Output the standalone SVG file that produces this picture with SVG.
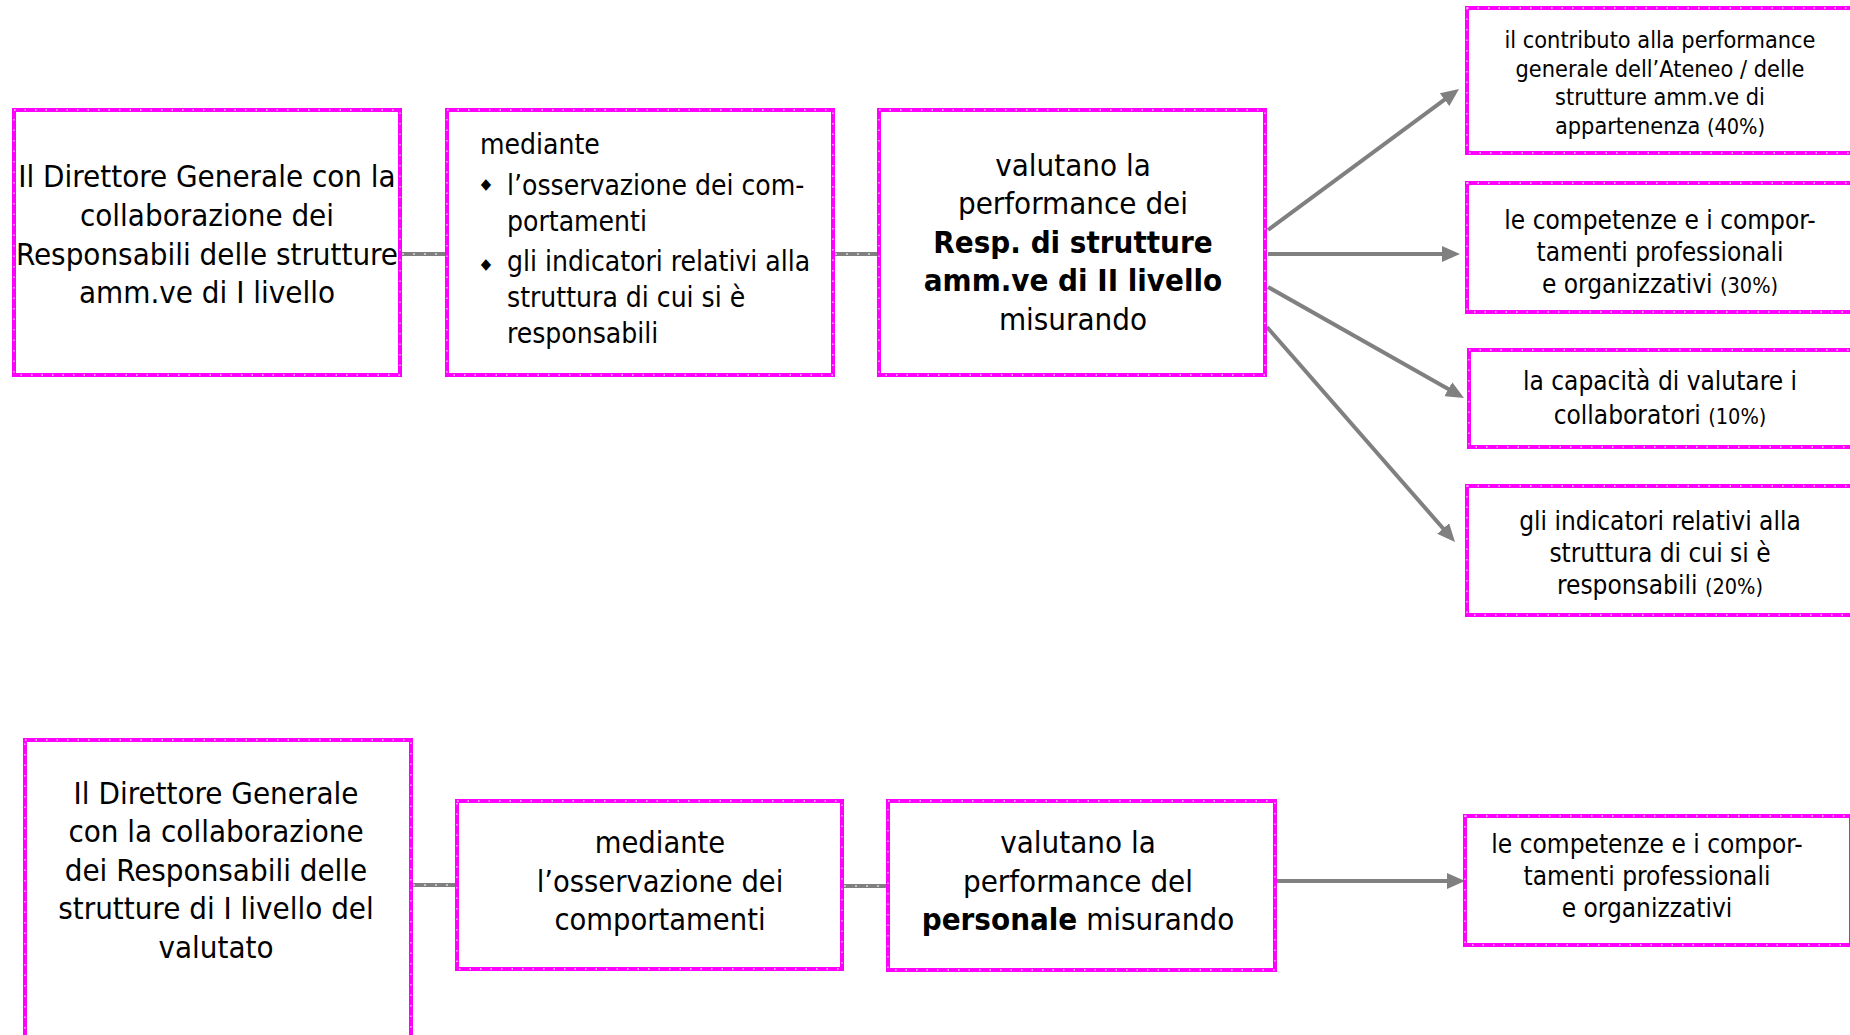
<svg xmlns="http://www.w3.org/2000/svg" width="1850" height="1035" viewBox="0 0 1850 1035">
<defs>
<style>
.box{fill:#fff;stroke:#ff00ff;stroke-width:4}
.boxdot{fill:none;stroke:#ffd0ff;stroke-width:1.3;stroke-dasharray:1.5 9}
.conn{stroke:#808080;stroke-width:4;fill:none}
.conndot{stroke:#d8d8d8;stroke-width:1.6;stroke-dasharray:2 9;fill:none}
.arr{stroke:#808080;stroke-width:4;fill:none;marker-end:url(#ah)}
text{font-family:"DejaVu Sans Condensed","DejaVu Sans","Liberation Sans",sans-serif;fill:#000}
.c{text-anchor:middle}
.t31{font-size:31px}
.t30{font-size:30.5px}
.t28{font-size:28px}
.t26{font-size:26px}
.t23{font-size:23.3px}
.pc{font-size:21.5px}
.b{font-weight:bold}
</style>
<marker id="ah" viewBox="0 0 18 16" refX="8" refY="8" markerWidth="18" markerHeight="16" markerUnits="userSpaceOnUse" orient="auto">
<path d="M0,0 L18,8 L0,16 z" fill="#808080"/>
</marker>
</defs>

<g id="connectors">
<line class="conn" x1="400" y1="254" x2="447" y2="254"/>
<line class="conndot" x1="402" y1="254" x2="445" y2="254"/>
<line class="conn" x1="833" y1="254" x2="879" y2="254"/>
<line class="conndot" x1="835" y1="254" x2="877" y2="254"/>
<line class="conn" x1="411" y1="885" x2="457" y2="885"/>
<line class="conndot" x1="413" y1="885" x2="455" y2="885"/>
<line class="conn" x1="842" y1="886" x2="888" y2="886"/>
<line class="conndot" x1="844" y1="886" x2="886" y2="886"/>
<line class="arr" x1="1268" y1="230" x2="1451" y2="94.9"/>
<line class="arr" x1="1268" y1="254" x2="1450" y2="254"/>
<line class="arr" x1="1268" y1="287" x2="1455.3" y2="393.1"/>
<line class="arr" x1="1267" y1="327" x2="1448.4" y2="534.5"/>
<line class="arr" x1="1275" y1="881" x2="1455" y2="881"/>
</g>

<g id="n1">
<rect class="box" x="14" y="110" width="386" height="265"/>
<rect class="boxdot" x="14" y="110" width="386" height="265"/>
<text class="c t31" x="207"><tspan x="207" y="187">Il Direttore Generale con la</tspan><tspan x="207" y="226">collaborazione dei</tspan><tspan x="207" y="265">Responsabili delle strutture</tspan><tspan x="207" y="303">amm.ve di I livello</tspan></text>
</g>

<g id="n2">
<rect class="box" x="447" y="110" width="386" height="265"/>
<rect class="boxdot" x="447" y="110" width="386" height="265"/>
<text class="t28" x="480" y="154">mediante</text>
<text x="486" y="189" font-size="15" text-anchor="middle">◆</text>
<text class="t28" x="507"><tspan x="507" y="195">l’osservazione dei com-</tspan><tspan x="507" y="231">portamenti</tspan></text>
<text x="486" y="269" font-size="15" text-anchor="middle">◆</text>
<text class="t28" x="507"><tspan x="507" y="271">gli indicatori relativi alla</tspan><tspan x="507" y="307">struttura di cui si è</tspan><tspan x="507" y="343">responsabili</tspan></text>
</g>

<g id="n3">
<rect class="box" x="879" y="110" width="386" height="265"/>
<rect class="boxdot" x="879" y="110" width="386" height="265"/>
<text class="c t31" x="1073"><tspan x="1073" y="176">valutano la</tspan><tspan x="1073" y="214">performance dei</tspan><tspan x="1073" y="253" class="b">Resp. di strutture</tspan><tspan x="1073" y="291" class="b">amm.ve di II livello</tspan><tspan x="1073" y="330">misurando</tspan></text>
</g>

<g id="r1">
<rect class="box" x="1467" y="8" width="386" height="145"/>
<rect class="boxdot" x="1467" y="8" width="386" height="145"/>
<text class="c t23" x="1660"><tspan x="1660" y="48">il contributo alla performance</tspan><tspan x="1660" y="77">generale dell’Ateneo / delle</tspan><tspan x="1660" y="105">strutture amm.ve di</tspan><tspan x="1660" y="134">appartenenza <tspan class="pc">(40%)</tspan></tspan></text>
</g>

<g id="r2">
<rect class="box" x="1467" y="183" width="386" height="129"/>
<rect class="boxdot" x="1467" y="183" width="386" height="129"/>
<text class="c t26" x="1660"><tspan x="1660" y="229">le competenze e i compor-</tspan><tspan x="1660" y="261">tamenti professionali</tspan><tspan x="1660" y="293">e organizzativi <tspan class="pc">(30%)</tspan></tspan></text>
</g>

<g id="r3">
<rect class="box" x="1469" y="350" width="386" height="97"/>
<rect class="boxdot" x="1469" y="350" width="386" height="97"/>
<text class="c t26" x="1660"><tspan x="1660" y="390">la capacità di valutare i</tspan><tspan x="1660" y="424">collaboratori <tspan class="pc">(10%)</tspan></tspan></text>
</g>

<g id="r4">
<rect class="box" x="1467" y="486" width="386" height="129"/>
<rect class="boxdot" x="1467" y="486" width="386" height="129"/>
<text class="c t26" x="1660"><tspan x="1660" y="530">gli indicatori relativi alla</tspan><tspan x="1660" y="562">struttura di cui si è</tspan><tspan x="1660" y="594">responsabili <tspan class="pc">(20%)</tspan></tspan></text>
</g>

<g id="b1">
<rect class="box" x="25" y="740" width="386" height="320"/>
<rect class="boxdot" x="25" y="740" width="386" height="320"/>
<text class="c t31" x="216"><tspan x="216" y="804">Il Direttore Generale</tspan><tspan x="216" y="842">con la collaborazione</tspan><tspan x="216" y="881">dei Responsabili delle</tspan><tspan x="216" y="919">strutture di I livello del</tspan><tspan x="216" y="958">valutato</tspan></text>
</g>

<g id="b2">
<rect class="box" x="457" y="801" width="385" height="168"/>
<rect class="boxdot" x="457" y="801" width="385" height="168"/>
<text class="c t30" x="660"><tspan x="660" y="853">mediante</tspan><tspan x="660" y="892">l’osservazione dei</tspan><tspan x="660" y="930">comportamenti</tspan></text>
</g>

<g id="b3">
<rect class="box" x="888" y="801" width="387" height="169"/>
<rect class="boxdot" x="888" y="801" width="387" height="169"/>
<text class="c t31" x="1078"><tspan x="1078" y="853">valutano la</tspan><tspan x="1078" y="892">performance del</tspan><tspan x="1078" y="930"><tspan class="b">personale</tspan> misurando</tspan></text>
</g>

<g id="b4">
<rect class="box" x="1465" y="816" width="386" height="129"/>
<rect class="boxdot" x="1465" y="816" width="386" height="129"/>
<text class="c t26" x="1647"><tspan x="1647" y="853">le competenze e i compor-</tspan><tspan x="1647" y="885">tamenti professionali</tspan><tspan x="1647" y="917">e organizzativi</tspan></text>
</g>
</svg>
